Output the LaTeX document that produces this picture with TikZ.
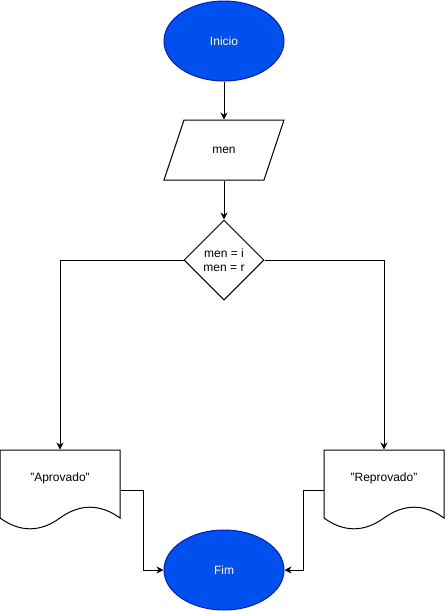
\documentclass[tikz,border=0pt]{standalone}
\usepackage{fontspec}
\setmainfont{Liberation Sans}
\usetikzlibrary{shapes.geometric,arrows.meta}
\definecolor{termfill}{HTML}{0050EF}
\definecolor{termline}{HTML}{001DBC}
\begin{document}
\begin{tikzpicture}[x=1pt,y=-1pt,line width=1pt,
  every node/.style={font=\fontsize{12}{14}\selectfont, inner sep=0pt},
  terminal/.style={ellipse, draw=termline, fill=termfill, text=white,
    minimum width=120, minimum height=80},
  decision/.style={diamond, draw, fill=white, minimum width=80, minimum height=80,
    align=center},
  box/.style={rectangle, minimum width=#1, minimum height=60},
  docbox/.style={rectangle, minimum width=120, minimum height=80},
  flow/.style={-{Stealth[length=7pt,width=7pt]}}]
\useasboundingbox (0,0) rectangle (445,611);

% start / end
\node[terminal] (ini) at (224,41) {Inicio};
\node[terminal] (fim) at (224,570) {Fim};

% input
\draw[fill=white] (164,180) -- (184,120) -- (284,120) -- (264,180) -- cycle;
\node[box=100] (inp) at (224,150) {men};

% decision
\node[decision] (dec) at (224,260) {men = i\\men = r};

% documents
\draw[fill=white] (0,450) -- (120,450) -- (120,518)
  .. controls (100,503.6) and (80,503.6) .. (60,518)
  .. controls (40,532.4) and (20,532.4) .. (0,518) -- cycle;
\node[docbox] (apr) at (60,490) {};
\node at (60,478) {"Aprovado"};

\draw[fill=white] (324,450) -- (444,450) -- (444,518)
  .. controls (424,503.6) and (404,503.6) .. (384,518)
  .. controls (364,532.4) and (344,532.4) .. (324,518) -- cycle;
\node[docbox] (rep) at (384,490) {};
\node at (384,478) {"Reprovado"};

% connectors
\draw[flow] (ini) -- (inp.north);
\draw[flow] (inp.south) -- (dec.north);
\draw[flow] (dec.west) -| (apr.north);
\draw[flow] (dec.east) -| (rep.north);
\draw[flow] (apr.east) -- ++(23,0) |- (fim.west);
\draw[flow] (rep.west) -- ++(-20,0) |- (fim.east);
\end{tikzpicture}
\end{document}
